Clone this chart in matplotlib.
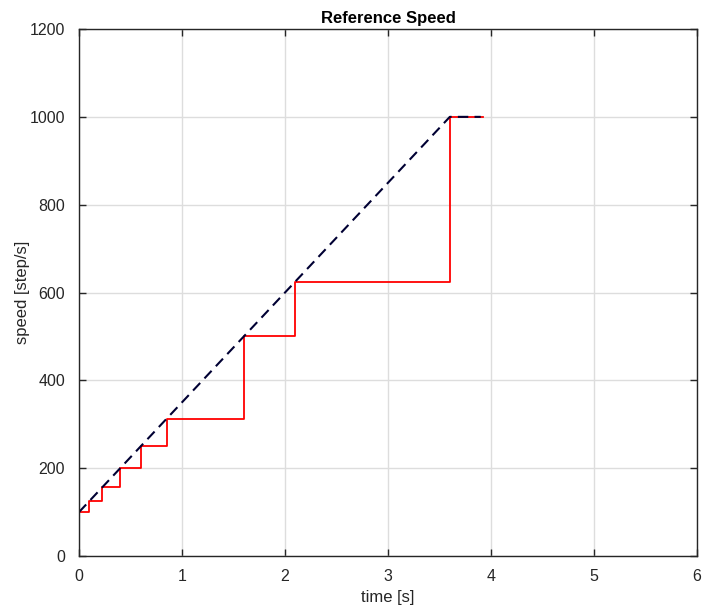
import matplotlib
matplotlib.use("Agg")
import matplotlib.pyplot as plt

plt.rcParams['font.family'] = ['Liberation Sans Narrow', 'Liberation Sans', 'DejaVu Sans']

# quantized speed actually commanded (step/s), switches when the ramp reaches next level
step_times = [0.0, 0.1, 0.225, 0.4, 0.6, 0.85, 1.6, 2.1, 3.6, 3.92]
step_speeds = [100, 125, 156.25, 200, 250, 312.5, 500, 625, 1000, 1000]

# ideal linear ramp
ramp_times = [0.0, 3.6, 3.9]
ramp_speeds = [100, 1000, 1000]

fig = plt.figure(figsize=(7.03, 6.11), dpi=100)
ax = fig.add_axes([0.1124, 0.090, 0.8791, 0.8625])

ax.step(step_times, step_speeds, where='post', color='red', lw=1.3)
ax.plot(ramp_times, ramp_speeds, '--', color='#000033', lw=1.5, dashes=(5, 3))

ax.set_xlim(0, 6)
ax.set_ylim(0, 1200)
ax.set_xticks(range(0, 7))
ax.set_yticks(range(0, 1201, 200))
ax.grid(True, color='#dddddd', lw=1.0)
ax.set_axisbelow(True)

ax.tick_params(direction='in', top=True, right=True, length=5, width=1,
               color='#262626', labelsize=11.5, labelcolor='#262626')
ax.tick_params(axis='x', pad=9)
ax.tick_params(axis='y', pad=10)
for s in ax.spines.values():
    s.set_color('#262626')
    s.set_linewidth(1.0)

ax.set_title('Reference Speed', fontsize=12, fontweight='bold', pad=4)
ax.set_xlabel('time [s]', fontsize=12, color='#262626')
ax.set_ylabel('speed [step/s]', fontsize=12, color='#262626')
ax.xaxis.set_label_coords(0.5, -0.078)
ax.yaxis.set_label_coords(-0.092, 0.5)
ax.xaxis.label.set_va('center')
ax.yaxis.label.set_va('center')

fig.savefig('out.png', dpi=100)
